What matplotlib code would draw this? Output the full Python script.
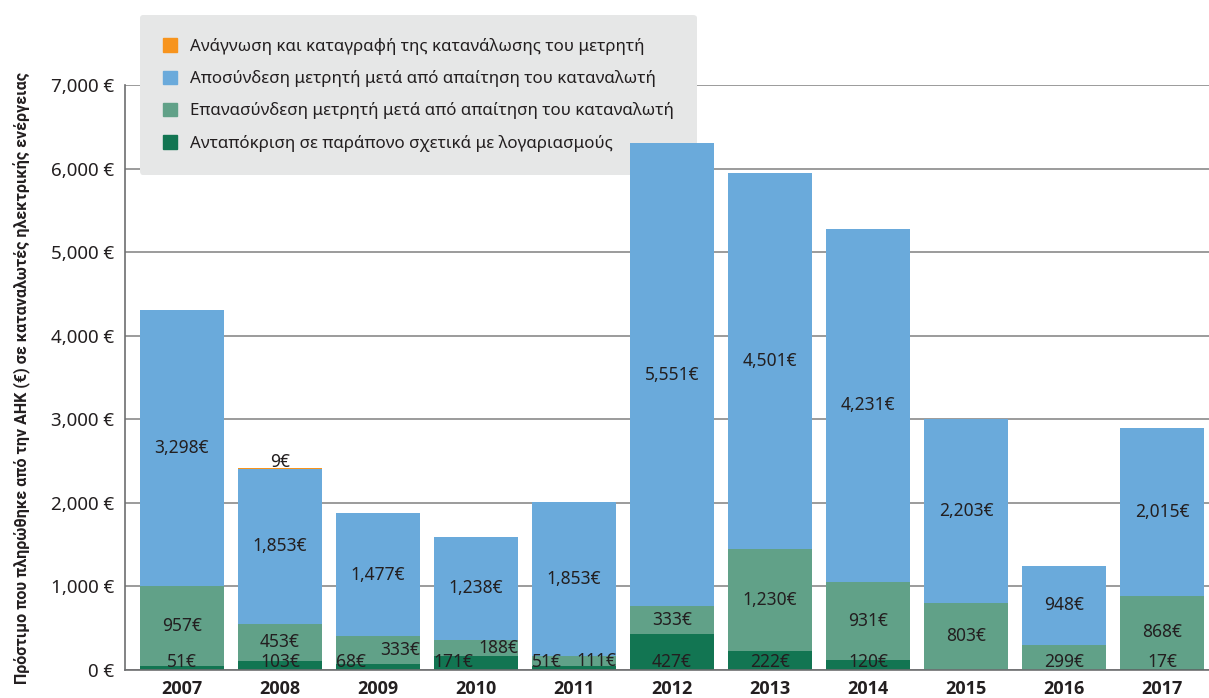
import matplotlib
matplotlib.use('Agg')
from matplotlib import pyplot as plt
from matplotlib.patches import Patch
import numpy as np

years = ['2007', '2008', '2009', '2010', '2011', '2012', '2013', '2014', '2015', '2016', '2017']
complaint = [51, 103, 68, 171, 51, 427, 222, 120, 0, 0, 17]
reconnect = [957, 453, 333, 188, 111, 333, 1230, 931, 803, 299, 868]
disconnect = [3298, 1853, 1477, 1238, 1853, 5551, 4501, 4231, 2203, 948, 2015]
reading = [0, 9, 0, 0, 0, 0, 0, 0, 0, 0, 0]

legend_labels = [
    'Ανάγνωση και καταγραφή της κατανάλωσης του μετρητή',
    'Αποσύνδεση μετρητή μετά από απαίτηση του καταναλωτή',
    'Επανασύνδεση μετρητή μετά από απαίτηση του καταναλωτή',
    'Ανταπόκριση σε παράπονο σχετικά με λογαριασμούς',
]
ylabel = 'Πρόστιμο που πληρώθηκε από την ΑΗΚ (€) σε καταναλωτές ηλεκτρικής ενέργειας'

# years where the two small bottom labels sit left / right instead of centred
split_labels = ['2009', '2010', '2011']

c_orange = '#f7941d'
c_blue = '#6aaadb'
c_green = '#61a188'
c_dark = '#127552'
txt = '#231f20'

plt.rcParams['font.family'] = ['Noto Sans', 'DejaVu Sans']

fig = plt.figure(figsize=(12.09, 6.98), dpi=100)
ax = fig.add_axes([0.1034, 0.0401, 0.8966, 0.8381])

x = np.arange(len(years))
w = 0.86
complaint = np.array(complaint)
reconnect = np.array(reconnect)
disconnect = np.array(disconnect)
reading = np.array(reading)

ax.bar(x, complaint, w, color=c_dark, zorder=2, clip_on=False)
ax.bar(x, reconnect, w, bottom=complaint, color=c_green, zorder=2, clip_on=False)
b2 = complaint + reconnect
ax.bar(x, disconnect, w, bottom=b2, color=c_blue, zorder=2, clip_on=False)
b3 = b2 + disconnect
ax.bar(x, reading, w, bottom=b3, color=c_orange, zorder=2, clip_on=False)

fs = 12.5
kw = dict(fontsize=fs, color=txt, zorder=3)
for i in range(len(years)):
    if years[i] in split_labels:
        ax.text(x[i] - w / 2, -10, f'{complaint[i]:,}€', ha='left', va='bottom', **kw)
        ax.text(x[i] + w / 2, complaint[i] + reconnect[i] / 2, f'{reconnect[i]:,}€',
                ha='right', va='center', **kw)
    else:
        if complaint[i] > 0:
            ax.text(x[i], -10, f'{complaint[i]:,}€', ha='center', va='bottom', **kw)
        if years[i] == '2016':
            ax.text(x[i], -10, f'{reconnect[i]:,}€', ha='center', va='bottom', **kw)
        else:
            ax.text(x[i], complaint[i] + reconnect[i] / 2, f'{reconnect[i]:,}€',
                    ha='center', va='center', **kw)
    ax.text(x[i], b2[i] + disconnect[i] / 2, f'{disconnect[i]:,}€', ha='center',
            va='center', **kw)
    if reading[i] > 0:
        ax.text(x[i], b3[i] - 25, f'{reading[i]:,}€', ha='center', va='bottom', **kw)

ax.set_xlim(-0.58, 10.48)
ax.set_ylim(0, 7000)
ax.set_yticks(np.arange(0, 7001, 1000))
ax.set_yticklabels([f'{v:,} €' for v in range(0, 7001, 1000)], fontsize=13.5, color=txt)
ax.set_xticks(x)
ax.set_xticklabels(years, fontsize=13, fontweight='bold', color=txt,
                   family=['Open Sans', 'DejaVu Sans'])
ax.tick_params(axis='x', length=0, pad=7)
ax.tick_params(axis='y', length=0, pad=8)
ax.grid(axis='y', color='#8a8a8a', linewidth=1.2, zorder=0)
ax.set_axisbelow(True)
for s in ['top', 'right']:
    ax.spines[s].set_visible(False)
ax.spines['left'].set_color('#6d6e70')
ax.spines['bottom'].set_color('#6d6e70')
ax.spines['left'].set_linewidth(1.2)
ax.spines['bottom'].set_linewidth(1.2)

ax.set_ylabel(ylabel, fontsize=11.5, fontweight='bold', color=txt,
              family=['Roboto', 'DejaVu Sans'])
ax.yaxis.set_label_coords(-0.087, 0.5)

# legend sits over the grid but under the bars
handles = [Patch(color=c) for c in [c_orange, c_blue, c_green, c_dark]]
leg = ax.legend(handles, legend_labels, loc='upper left',
                bbox_to_anchor=(140 / 1209, 1 - 15 / 698), bbox_transform=fig.transFigure,
                fontsize=12.2, frameon=True, fancybox=True, facecolor='#e6e7e7',
                edgecolor='none', framealpha=1, handlelength=0.85, handleheight=0.85,
                handletextpad=0.75, labelspacing=0.9, borderpad=1.35, borderaxespad=0)
for t in leg.get_texts():
    t.set_color(txt)
leg.set_zorder(1)

fig.savefig('out.png', dpi=100)
